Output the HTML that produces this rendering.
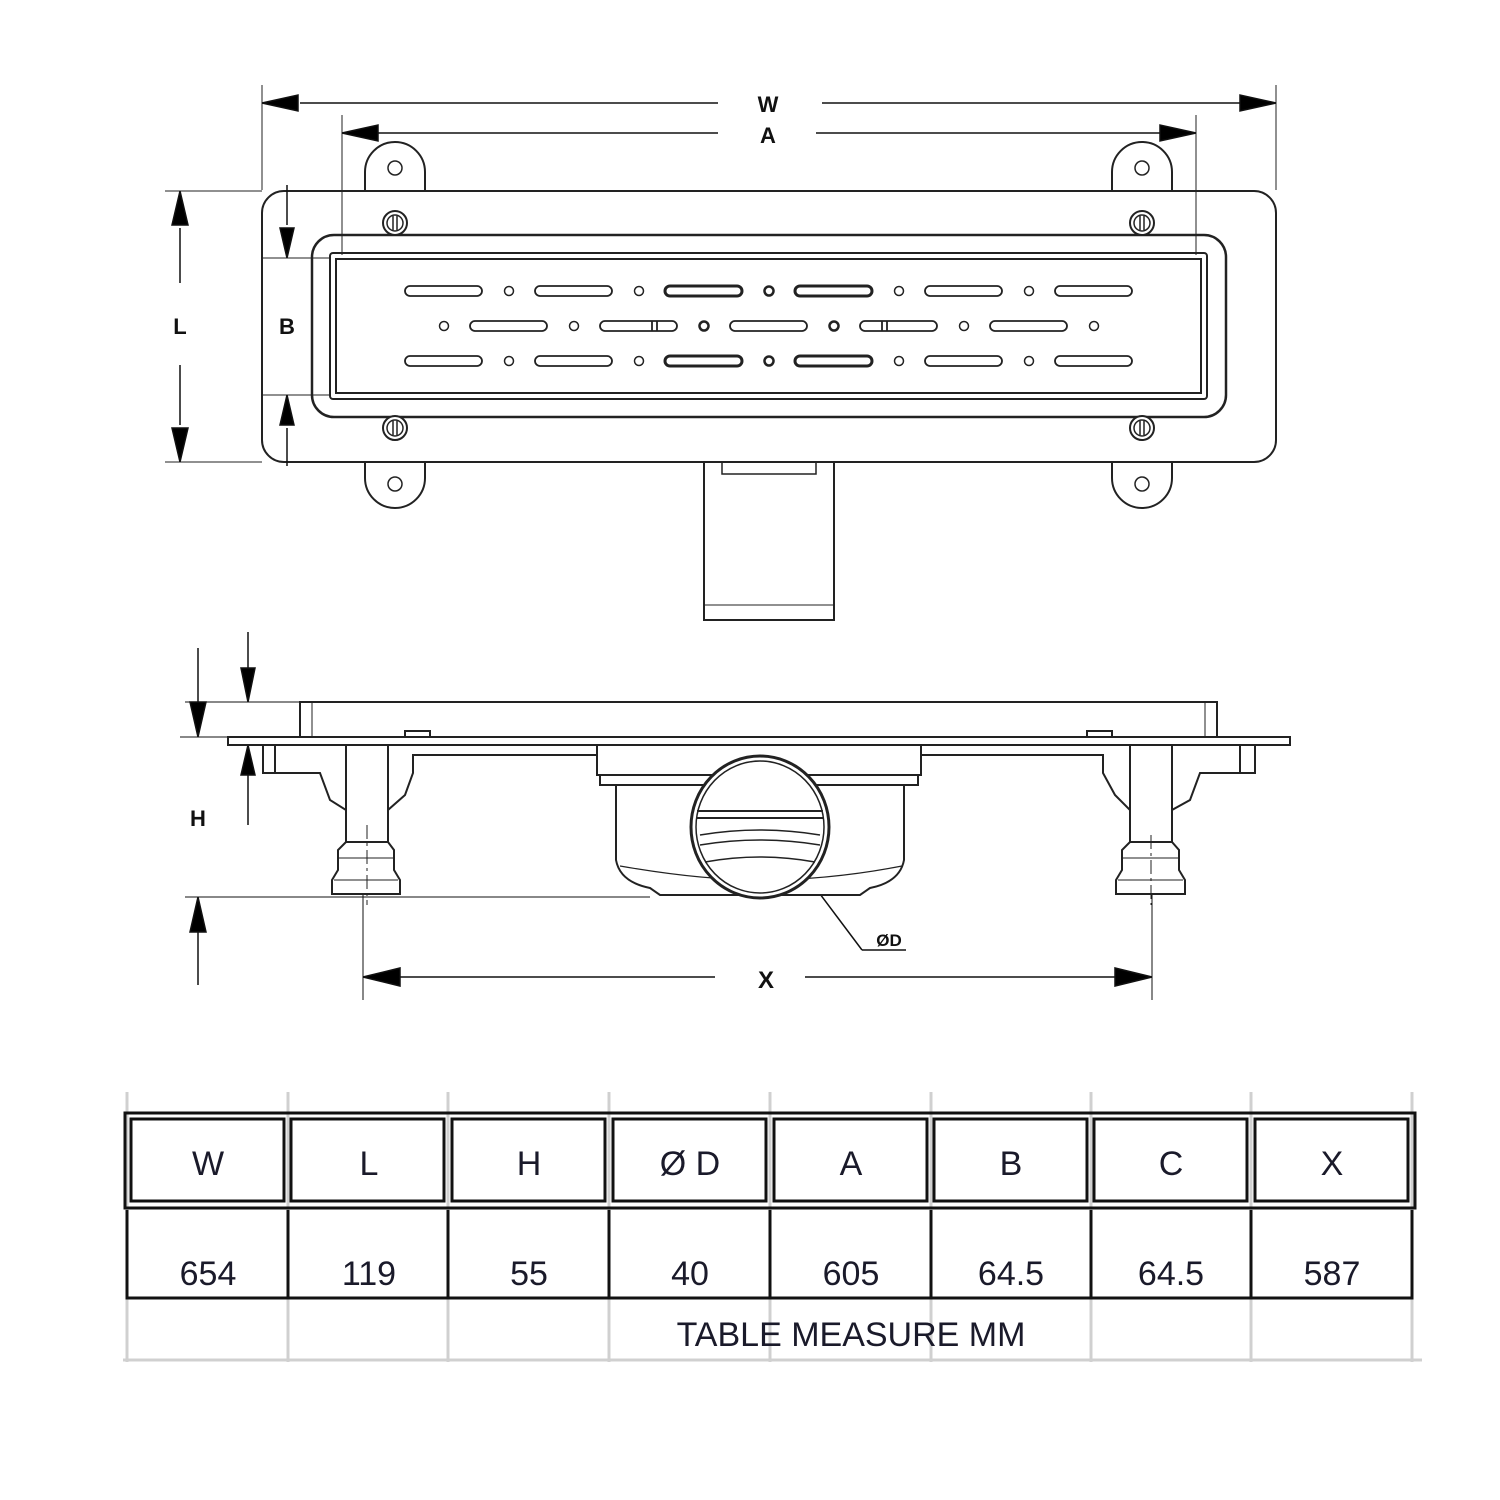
<!DOCTYPE html>
<html><head><meta charset="utf-8"><style>
html,body{margin:0;padding:0;background:#fff}
svg{display:block}
text{font-family:"Liberation Sans",sans-serif}
</style></head><body>
<svg width="1500" height="1500" viewBox="0 0 1500 1500" xmlns="http://www.w3.org/2000/svg">
<!-- top view body -->
<g fill="none" stroke="#222" stroke-width="2">
<path d="M365 191 V172 a30 30 0 0 1 60 0 V191"/>
<path d="M1112 191 V172 a30 30 0 0 1 60 0 V191"/>
<path d="M365 462 V478 a30 30 0 0 0 60 0 V462"/>
<path d="M1112 462 V478 a30 30 0 0 0 60 0 V462"/>
<rect x="262" y="191" width="1014" height="271" rx="22"/>
<rect x="312" y="235" width="914" height="182" rx="22" stroke-width="2.5"/>
<rect x="330" y="253" width="877" height="146" rx="3"/>
<rect x="336" y="259" width="865" height="134"/>
</g>
<g fill="none" stroke="#222" stroke-width="1.5">
<path d="M262 85V190M1276 85V190M342 115V255M1196 115V255" stroke-width="1"/>
<path d="M165 191H262M165 462H262M262 258H330M262 395H330" stroke-width="1"/>
</g>
<g stroke="#111" stroke-width="1.5" fill="#000">
<line x1="300" y1="103" x2="718" y2="103"/><line x1="822" y1="103" x2="1240" y2="103"/>
<path d="M262 103 L298 95 L298 111z"/><path d="M1276 103 L1240 95 L1240 111z"/>
<line x1="378" y1="133" x2="718" y2="133"/><line x1="816" y1="133" x2="1160" y2="133"/>
<path d="M342 133 L378 125 L378 141z"/><path d="M1196 133 L1160 125 L1160 141z"/>
<line x1="180" y1="228" x2="180" y2="283"/><line x1="180" y1="365" x2="180" y2="425"/>
<path d="M180 191 L172 225 L188 225z"/><path d="M180 462 L172 428 L188 428z"/>
<line x1="287" y1="185" x2="287" y2="225"/><line x1="287" y1="428" x2="287" y2="466"/>
<path d="M287 258 L280 228 L294 228z"/><path d="M287 395 L280 425 L294 425z"/>
</g>
<g font-weight="bold" font-size="22" text-anchor="middle" fill="#111">
<text x="768" y="112">W</text><text x="768" y="143">A</text>
<text x="180" y="334">L</text><text x="287" y="334">B</text>
</g>
<g fill="#fff" stroke="#222" stroke-width="1.5">
<circle cx="395" cy="168" r="7"/><circle cx="1142" cy="168" r="7"/>
<circle cx="395" cy="484" r="7"/><circle cx="1142" cy="484" r="7"/>
<circle cx="395" cy="223" r="12" stroke-width="2"/><circle cx="1142" cy="223" r="12" stroke-width="2"/>
<circle cx="395" cy="428" r="12" stroke-width="2"/><circle cx="1142" cy="428" r="12" stroke-width="2"/>
<circle cx="395" cy="223" r="8"/><circle cx="1142" cy="223" r="8"/>
<circle cx="395" cy="428" r="8"/><circle cx="1142" cy="428" r="8"/>
<path d="M393 216V230M397 216V230M1140 216V230M1144 216V230M393 421V435M397 421V435M1140 421V435M1144 421V435"/>
<g stroke-width="1.8">
<rect x="405" y="286" width="77" height="10" rx="5"/><rect x="535" y="286" width="77" height="10" rx="5"/>
<rect x="665" y="286" width="77" height="10" rx="5" stroke-width="3"/><rect x="795" y="286" width="77" height="10" rx="5" stroke-width="3"/>
<rect x="925" y="286" width="77" height="10" rx="5"/><rect x="1055" y="286" width="77" height="10" rx="5"/>
<rect x="405" y="356" width="77" height="10" rx="5"/><rect x="535" y="356" width="77" height="10" rx="5"/>
<rect x="665" y="356" width="77" height="10" rx="5" stroke-width="3"/><rect x="795" y="356" width="77" height="10" rx="5" stroke-width="3"/>
<rect x="925" y="356" width="77" height="10" rx="5"/><rect x="1055" y="356" width="77" height="10" rx="5"/>
<rect x="470" y="321" width="77" height="10" rx="5"/><rect x="600" y="321" width="77" height="10" rx="5"/>
<rect x="730" y="321" width="77" height="10" rx="5"/><rect x="860" y="321" width="77" height="10" rx="5"/>
<rect x="990" y="321" width="77" height="10" rx="5"/>
<path d="M652 321V331M657 321V331M882 321V331M887 321V331"/>
</g>
<circle cx="509" cy="291" r="4.5"/><circle cx="639" cy="291" r="4.5"/><circle cx="769" cy="291" r="4.5" stroke-width="2.5"/><circle cx="899" cy="291" r="4.5"/><circle cx="1029" cy="291" r="4.5"/>
<circle cx="509" cy="361" r="4.5"/><circle cx="639" cy="361" r="4.5"/><circle cx="769" cy="361" r="4.5" stroke-width="2.5"/><circle cx="899" cy="361" r="4.5"/><circle cx="1029" cy="361" r="4.5"/>
<circle cx="444" cy="326" r="4.5"/><circle cx="574" cy="326" r="4.5"/><circle cx="704" cy="326" r="4.5" stroke-width="2.5"/><circle cx="834" cy="326" r="4.5" stroke-width="2.5"/><circle cx="964" cy="326" r="4.5"/><circle cx="1094" cy="326" r="4.5"/>
</g>
<g fill="none" stroke="#222" stroke-width="2">
<path d="M704 462V620H834V462"/>
<path d="M722 462V474H816V462" stroke-width="1.5"/>
<path d="M704 605H834" stroke-width="1"/>
</g>
<!-- side view dims -->
<g stroke="#111" stroke-width="1.5" fill="#000">
<line x1="185" y1="702" x2="300" y2="702" stroke-width="1"/>
<line x1="180" y1="737" x2="230" y2="737" stroke-width="1"/>
<line x1="185" y1="897" x2="650" y2="897" stroke-width="1"/>
<line x1="198" y1="648" x2="198" y2="705"/><path d="M198 737 L190 702 L206 702z"/>
<line x1="198" y1="930" x2="198" y2="985"/><path d="M198 897 L190 932 L206 932z"/>
<line x1="248" y1="632" x2="248" y2="672"/><path d="M248 702 L241 668 L255 668z"/>
<line x1="248" y1="775" x2="248" y2="825"/><path d="M248 745 L241 775 L255 775z"/>
<line x1="363" y1="825" x2="363" y2="1000" stroke-width="1"/><line x1="1152" y1="835" x2="1152" y2="1000" stroke-width="1"/>
<line x1="400" y1="977" x2="715" y2="977"/><line x1="805" y1="977" x2="1115" y2="977"/>
<path d="M363 977 L400 968 L400 986z"/><path d="M1152 977 L1115 968 L1115 986z"/>
<line x1="808" y1="878" x2="862" y2="950"/><line x1="862" y1="950" x2="906" y2="950"/>
</g>
<g font-weight="bold" text-anchor="middle" fill="#111">
<text x="198" y="826" font-size="22">H</text>
<text x="766" y="988" font-size="24">X</text>
<text x="889" y="946" font-size="17">ØD</text>
</g>
<g fill="#fff" stroke="#222" stroke-width="2">
<rect x="300" y="702" width="917" height="35"/>
<path d="M312 702V737M1205 702V737" stroke-width="1"/>
<rect x="405" y="731" width="25" height="6"/><rect x="1087" y="731" width="25" height="6"/>
<rect x="228" y="737" width="1062" height="8"/>
<path d="M263 745V773H320L330 800L346 810V842H388V810L405 795L413 773V755H597V745Z"/>
<path d="M346 745V842M388 745V842M275 745V773"/>
<path d="M346 842L338 850V870L332 880V894H400V880L394 870V850L388 842Z"/>
<path d="M338 858H394M334 880H398" stroke-width="1"/>
<path d="M1255 745V773H1200L1190 800L1172 810V842H1130V810L1115 795L1103 773V755H920V745Z"/>
<path d="M1130 745V842M1172 745V842M1240 745V773"/>
<path d="M1130 842L1122 850V870L1116 880V894H1185V880L1179 870V850L1172 842Z"/>
<path d="M1122 858H1179M1118 880H1183" stroke-width="1"/>
<rect x="597" y="745" width="324" height="30"/>
<rect x="600" y="775" width="318" height="10"/>
<path d="M616 785V860Q620 882 650 888L660 895H860L870 888Q900 882 904 860V785Z"/>
<path d="M620 866Q700 880 760 880Q830 880 902 866" stroke-width="1.2"/>
<ellipse cx="760" cy="827" rx="69" ry="71" stroke-width="3"/>
<ellipse cx="760" cy="827" rx="64" ry="66" stroke-width="1.5"/>
<path d="M697 811H823M697 818H823" stroke-width="2"/>
<path d="M700 835Q760 825 820 835M700 845Q760 835 820 845M705 862Q760 852 815 862" stroke-width="1.5" fill="none"/>
</g>
<g stroke="#222" stroke-width="1" stroke-dasharray="14 4 3 4">
<line x1="367" y1="825" x2="367" y2="905"/><line x1="1151" y1="835" x2="1151" y2="905"/>
</g>
<!-- table -->
<g stroke="#d0d0d0" stroke-width="3">
<path d="M127 1092V1362M288 1092V1362M448 1092V1362M609 1092V1362M770 1092V1362M931 1092V1362M1091 1092V1362M1251 1092V1362M1412 1092V1362"/>
<path d="M123 1360H1422"/>
</g>
<g fill="none" stroke="#111" stroke-width="3">
<rect x="125" y="1113" width="1290" height="95"/>
<rect x="131" y="1119" width="153" height="82"/><rect x="291" y="1119" width="153" height="82"/>
<rect x="452" y="1119" width="153" height="82"/><rect x="613" y="1119" width="153" height="82"/>
<rect x="774" y="1119" width="153" height="82"/><rect x="934" y="1119" width="153" height="82"/>
<rect x="1094" y="1119" width="153" height="82"/><rect x="1255" y="1119" width="153" height="82"/>
<path d="M127 1210V1298H1412V1210M288 1210V1298M448 1210V1298M609 1210V1298M770 1210V1298M931 1210V1298M1091 1210V1298M1251 1210V1298"/>
</g>
<g font-size="34" text-anchor="middle" fill="#1a1a2a">
<text x="208" y="1175">W</text><text x="369" y="1175">L</text><text x="529" y="1175">H</text><text x="690" y="1175">Ø D</text>
<text x="851" y="1175">A</text><text x="1011" y="1175">B</text><text x="1171" y="1175">C</text><text x="1332" y="1175">X</text>
<text x="208" y="1285">654</text><text x="369" y="1285">119</text><text x="529" y="1285">55</text><text x="690" y="1285">40</text>
<text x="851" y="1285">605</text><text x="1011" y="1285">64.5</text><text x="1171" y="1285">64.5</text><text x="1332" y="1285">587</text>
<text x="851" y="1346">TABLE MEASURE MM</text>
</g>
</svg>
</body></html>
